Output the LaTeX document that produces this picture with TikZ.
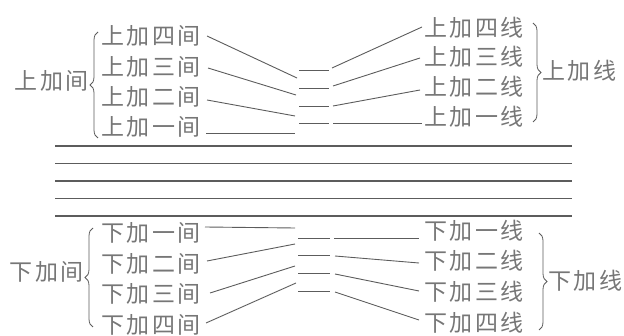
\documentclass[tikz,border=0pt]{standalone}
\usepackage{fontspec}
\setmainfont{Noto Sans CJK SC}
\usetikzlibrary{decorations.pathreplacing}
\definecolor{txtc}{HTML}{767676}
\definecolor{linec}{HTML}{5C5C5C}
\newcommand\gp{\hspace{2.5pt}}
\tikzset{
  lbl/.style={inner sep=0pt, text=txtc, font=\fontsize{23}{23}\selectfont},
  conn/.style={draw=linec, line width=0.9pt},
  staffline/.style={draw=linec, line width=1.1pt},
  brc/.style={draw=linec, line width=0.8pt, decorate, decoration={brace, amplitude=8pt}}
}
\begin{document}
\begin{tikzpicture}[x=1pt,y=-1pt]
\useasboundingbox (0,0) rectangle (624,336);
% ---------- upper ledger spaces (left) ----------
\node[lbl, anchor=west] (la4) at (101,36)  {上\gp{}加\gp{}四\gp{}间};
\node[lbl, anchor=west] (la3) at (101,67)  {上\gp{}加\gp{}三\gp{}间};
\node[lbl, anchor=west] (la2) at (101,97)  {上\gp{}加\gp{}二\gp{}间};
\node[lbl, anchor=west] (la1) at (101,127) {上\gp{}加\gp{}一\gp{}间};
\node[lbl, anchor=east] (gla) at (89,81) {上\gp{}加\gp{}间};
\draw[brc] (98,138) -- (98,32);
% ---------- upper ledger lines (right) ----------
\node[lbl, anchor=west] (ra4) at (424,28)  {上\gp{}加\gp{}四\gp{}线};
\node[lbl, anchor=west] (ra3) at (424,57)  {上\gp{}加\gp{}三\gp{}线};
\node[lbl, anchor=west] (ra2) at (424,87)  {上\gp{}加\gp{}二\gp{}线};
\node[lbl, anchor=west] (ra1) at (424,117) {上\gp{}加\gp{}一\gp{}线};
\node[lbl, anchor=west] (gra) at (542,71) {上\gp{}加\gp{}线};
\draw[brc] (533,23) -- (533,122);
% ---------- lower ledger spaces (left) ----------
\node[lbl, anchor=west] (lb1) at (101,233) {下\gp{}加\gp{}一\gp{}间};
\node[lbl, anchor=west] (lb2) at (101,264) {下\gp{}加\gp{}二\gp{}间};
\node[lbl, anchor=west] (lb3) at (101,294) {下\gp{}加\gp{}三\gp{}间};
\node[lbl, anchor=west] (lb4) at (101,325) {下\gp{}加\gp{}四\gp{}间};
\node[lbl, anchor=east] (glb) at (84,272) {下\gp{}加\gp{}间};
\draw[brc] (93,327) -- (93,228);
% ---------- lower ledger lines (right) ----------
\node[lbl, anchor=west] (rb1) at (424,231) {下\gp{}加\gp{}一\gp{}线};
\node[lbl, anchor=west] (rb2) at (424,261) {下\gp{}加\gp{}二\gp{}线};
\node[lbl, anchor=west] (rb3) at (424,292) {下\gp{}加\gp{}三\gp{}线};
\node[lbl, anchor=west] (rb4) at (424,323) {下\gp{}加\gp{}四\gp{}线};
\node[lbl, anchor=west] (grb) at (548,281) {下\gp{}加\gp{}线};
\draw[brc] (539,233) -- (539,330);
% ---------- staff ----------
\foreach \i/\y in {1/146,2/163.5,3/181,4/198.5,5/216}{
  \coordinate (s\i L) at (55,\y);
  \coordinate (s\i R) at (572,\y);
  \draw[staffline] (s\i L) -- (s\i R);
}
% ---------- short ledger dashes ----------
\foreach \i/\y in {4/70,3/88,2/106,1/123}{
  \coordinate (ta\i L) at (299,\y);
  \coordinate (ta\i R) at (329,\y);
  \draw[conn] (ta\i L) -- (ta\i R);
}
\foreach \i/\y in {1/238,2/255,3/273,4/291}{
  \coordinate (tb\i L) at (298,\y);
  \coordinate (tb\i R) at (330,\y);
  \draw[conn] (tb\i L) -- (tb\i R);
}
% ---------- connector end points ----------
\coordinate (pa4) at (207,36);  \coordinate (qa4) at (297,78);
\coordinate (pa3) at (208,68);  \coordinate (qa3) at (296,95);
\coordinate (pa2) at (207,100); \coordinate (qa2) at (295,116);
\coordinate (pa1) at (206,133); \coordinate (qa1) at (295,133);
\coordinate (ua4) at (332,68);  \coordinate (va4) at (422,27);
\coordinate (ua3) at (333,86);  \coordinate (va3) at (420,58);
\coordinate (ua2) at (333,106); \coordinate (va2) at (420,90);
\coordinate (ua1) at (333,123); \coordinate (va1) at (422,123);
\coordinate (pb1) at (205,227); \coordinate (qb1) at (295,228);
\coordinate (pb2) at (207,261); \coordinate (qb2) at (295,244);
\coordinate (pb3) at (210,293); \coordinate (qb3) at (295,266);
\coordinate (pb4) at (206,323); \coordinate (qb4) at (296,283);
\coordinate (ub1) at (334,238); \coordinate (vb1) at (419,238);
\coordinate (ub2) at (335,256); \coordinate (vb2) at (419,263);
\coordinate (ub3) at (335,274); \coordinate (vb3) at (419,291);
\coordinate (ub4) at (335,292); \coordinate (vb4) at (419,320);
\foreach \k in {a1,a2,a3,a4,b1,b2,b3,b4}{
  \draw[conn] (p\k) -- (q\k);
  \draw[conn] (u\k) -- (v\k);
}
\end{tikzpicture}
\end{document}
